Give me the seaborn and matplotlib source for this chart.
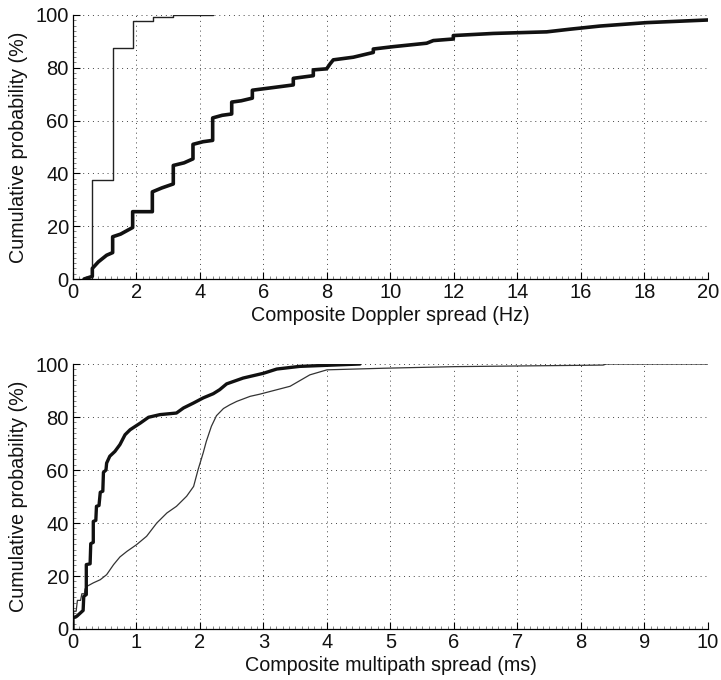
import numpy as np
import pandas as pd
import matplotlib
matplotlib.use("Agg")
import matplotlib.pyplot as plt
import seaborn as sns
from matplotlib.ticker import MultipleLocator

# ---- Data ----
# Top panel: composite Doppler spread (Hz)
dop_thin_x = [0.61, 0.61, 1.25, 1.25, 1.88, 1.88, 2.52, 2.52, 3.16, 3.16, 4.4]
dop_thin_y = [0, 37.5, 37.5, 87.4, 87.4, 97.8, 97.8, 99.1, 99.1, 100, 100]

dop_thick_x = [0.35, 0.61, 0.61, 0.8, 1.06, 1.25, 1.25, 1.5, 1.88, 1.88, 2.5, 2.5, 2.8, 3.16, 3.16,
               3.5, 3.78, 3.78, 4.1, 4.4, 4.4, 4.7, 5.0, 5.0, 5.3, 5.65, 5.65, 6.3, 6.94, 6.94,
               7.57, 7.57, 7.99, 8.1, 8.2, 8.83, 9.46, 9.46, 10.09, 11.14, 11.35, 11.98, 11.98,
               13.24, 14.92, 15.65, 16.6, 18.07, 20.0]
dop_thick_y = [0, 1, 4, 6.5, 9, 10, 16, 17, 19.5, 25.5, 25.5, 33, 34.5, 36, 43,
               44, 45.5, 51, 52, 52.5, 61, 62, 62.5, 67, 67.5, 68.5, 71.5, 72.5, 73.5, 76,
               77, 79.2, 79.6, 81.5, 83, 84, 85.8, 87.1, 88, 89.3, 90.3, 90.9, 92.2,
               93, 93.6, 94.6, 95.8, 97.1, 98.1]

# Bottom panel: composite multipath spread (ms)
mp_thick_x = [0, 0, 0.06, 0.16, 0.17, 0.21, 0.21, 0.27, 0.28, 0.32, 0.32, 0.36, 0.37, 0.41, 0.43,
              0.47, 0.48, 0.52, 0.53, 0.58, 0.66, 0.74, 0.82, 0.9, 1.06, 1.19, 1.37, 1.63, 1.74,
              1.9, 2.05, 2.21, 2.31, 2.42, 2.68, 3.0, 3.21, 3.57, 4.52]
mp_thick_y = [0, 4.2, 4.8, 7, 12.3, 13, 24.3, 24.6, 32.2, 32.7, 40.6, 41, 46.3, 46.6, 51.6,
              52, 59.1, 60, 62.6, 65.2, 67, 69.6, 73.3, 75.2, 77.7, 79.9, 80.9, 81.5, 83.4,
              85.3, 87.2, 88.8, 90.3, 92.5, 94.7, 96.5, 98.1, 99.1, 100]

mp_thin_x = [0, 0.01, 0.05, 0.07, 0.12, 0.14, 0.18, 0.19, 0.22, 0.32, 0.43, 0.53, 0.64, 0.74, 0.85,
             1.0, 1.16, 1.32, 1.48, 1.63, 1.79, 1.9, 1.97, 2.05, 2.1, 2.18, 2.26, 2.37, 2.47,
             2.58, 2.79, 2.94, 3.42, 3.73, 4.0, 4.89, 6.0, 8.0, 8.35, 8.4, 10.0]
mp_thin_y = [0, 6.7, 6.7, 10.8, 10.8, 13.3, 13.3, 15.1, 16.1, 17.4, 18.6, 20.5, 24.3, 27.2, 29.3,
             31.8, 35, 40, 43.8, 46.3, 50.1, 53.8, 60.1, 66.4, 70.8, 76.5, 80.5, 83.2, 84.6,
             85.9, 87.8, 88.6, 91.6, 95.9, 97.8, 98.4, 99, 99.5, 99.6, 100, 100]

xlabels = ["Composite Doppler spread (Hz)", "Composite multipath spread (ms)"]
ylabel = "Cumulative probability (%)"

# ---- Style ----
sns.set_theme(style="white")
plt.rcParams["font.family"] = ["Liberation Sans", "DejaVu Sans"]
plt.rcParams["font.size"] = 14

fig = plt.figure(figsize=(7.21, 6.8), dpi=100)
ax1 = fig.add_axes([0.1012, 0.5897, 0.8807, 0.3883])
ax2 = fig.add_axes([0.1012, 0.075, 0.8807, 0.3897])


def draw(ax, x, y, lw, color):
    df = pd.DataFrame({"x": x, "y": y})
    sns.lineplot(data=df, x="x", y="y", ax=ax, estimator=None, sort=False,
                 color=color, linewidth=lw)


draw(ax1, dop_thin_x, dop_thin_y, 1.0, "#222222")
draw(ax1, dop_thick_x, dop_thick_y, 2.6, "#111111")
draw(ax2, mp_thin_x, mp_thin_y, 0.9, "#333333")
draw(ax2, mp_thick_x, mp_thick_y, 2.4, "#111111")

for ax, xmax, xmaj, xmin, xl in [(ax1, 20, 2, 0.2, xlabels[0]), (ax2, 10, 1, 0.1, xlabels[1])]:
    ax.set_xlim(0, xmax)
    ax.set_ylim(0, 100)
    ax.xaxis.set_major_locator(MultipleLocator(xmaj))
    ax.xaxis.set_minor_locator(MultipleLocator(xmin))
    ax.yaxis.set_major_locator(MultipleLocator(20))
    ax.yaxis.set_minor_locator(MultipleLocator(2))
    ax.grid(True, which="major", color="#444444", linestyle=(0, (1, 4)), linewidth=0.7)
    ax.set_axisbelow(True)
    for s in ["top", "right"]:
        ax.spines[s].set_visible(False)
    for s in ["left", "bottom"]:
        ax.spines[s].set_color("black")
        ax.spines[s].set_linewidth(0.9)
    ax.tick_params(which="major", direction="in", length=5, width=0.8, colors="black",
                   labelsize=14.5, pad=3)
    ax.tick_params(which="minor", direction="in", length=2.5, width=0.5, colors="#555555")
    ax.tick_params(axis="both", which="both", left=True, bottom=True)
    ax.set_xlabel(xl, fontsize=14.2, color="#111111", labelpad=3)
    ax.set_ylabel(ylabel, fontsize=14.2, color="#111111", labelpad=5)
    for lab in ax.get_xticklabels() + ax.get_yticklabels():
        lab.set_color("#111111")

fig.savefig("out.png", dpi=100)
